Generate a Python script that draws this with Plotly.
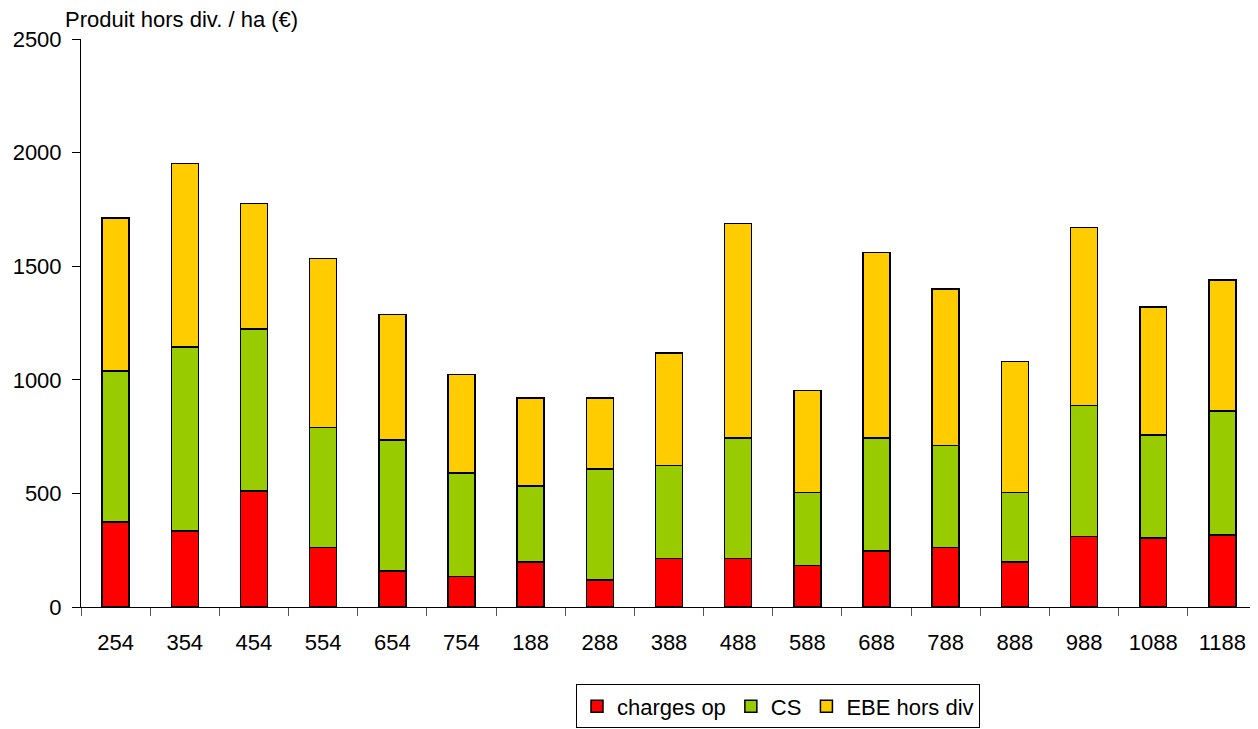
import plotly.graph_objects as go

categories = ["254", "354", "454", "554", "654", "754", "188", "288", "388",
              "488", "588", "688", "788", "888", "988", "1088", "1188"]
charges_op = [374, 335, 511, 263, 159, 134, 198, 119, 214, 214, 182, 246, 263, 198, 310, 303, 318]
cs = [665, 809, 713, 528, 575, 456, 335, 488, 408, 530, 322, 498, 448, 305, 577, 453, 544]
ebe_hors_div = [673, 808, 553, 744, 554, 433, 386, 312, 497, 944, 449, 816, 689, 577, 784, 564, 577]
y_ticks = [0, 500, 1000, 1500, 2000, 2500]

FONT = "Liberation Sans, Arial, sans-serif"

# page body has an 8px margin: figure coordinates are page coordinates minus 8
W, H = 1250, 721
L, T = 73, 31            # plot area left/top in figure coordinates
PW, PH = 1176, 572       # plot area size

fig = go.Figure()
for name, vals, col in [("charges op", charges_op, "#FF0000"),
                        ("CS", cs, "#99CC00"),
                        ("EBE hors div", ebe_hors_div, "#FFCC00")]:
    fig.add_trace(go.Bar(x=categories, y=vals, name=name,
                         marker=dict(color=col, line=dict(color="#000000", width=1.5))))

fig.update_layout(
    barmode="stack",
    bargap=0.61,
    width=W, height=H,
    margin=dict(l=L, r=W - L - PW, t=T, b=H - T - PH, pad=0),
    paper_bgcolor="white", plot_bgcolor="white",
    font=dict(family=FONT, size=21, color="black"),
    xaxis=dict(type="category", showline=True, linecolor="black", linewidth=1,
               ticks="outside", ticklen=8, tickcolor="#555555", tickson="boundaries",
               tickfont=dict(size=22), ticklabelstandoff=16, showgrid=False),
    yaxis=dict(range=[0, 2500], tickvals=y_ticks, showline=True, linecolor="black",
               linewidth=1, ticks="outside", ticklen=8, tickcolor="black",
               tickfont=dict(size=22), ticklabelstandoff=6, showgrid=False, zeroline=False),
    legend=dict(orientation="h", x=(778 - 81) / PW, xanchor="center",
                y=(611 - 689) / PH, yanchor="top",
                bordercolor="black", borderwidth=1, traceorder="normal",
                font=dict(size=22), itemwidth=30, tracegroupgap=0),
    showlegend=True,
    annotations=[dict(text="Produit hors div. / ha (€)", xref="paper", yref="paper",
                      x=(63 - 81) / PW, y=1, xanchor="left", yanchor="bottom",
                      yshift=5, showarrow=False, font=dict(size=22))],
)

fig.write_html("out.html")
